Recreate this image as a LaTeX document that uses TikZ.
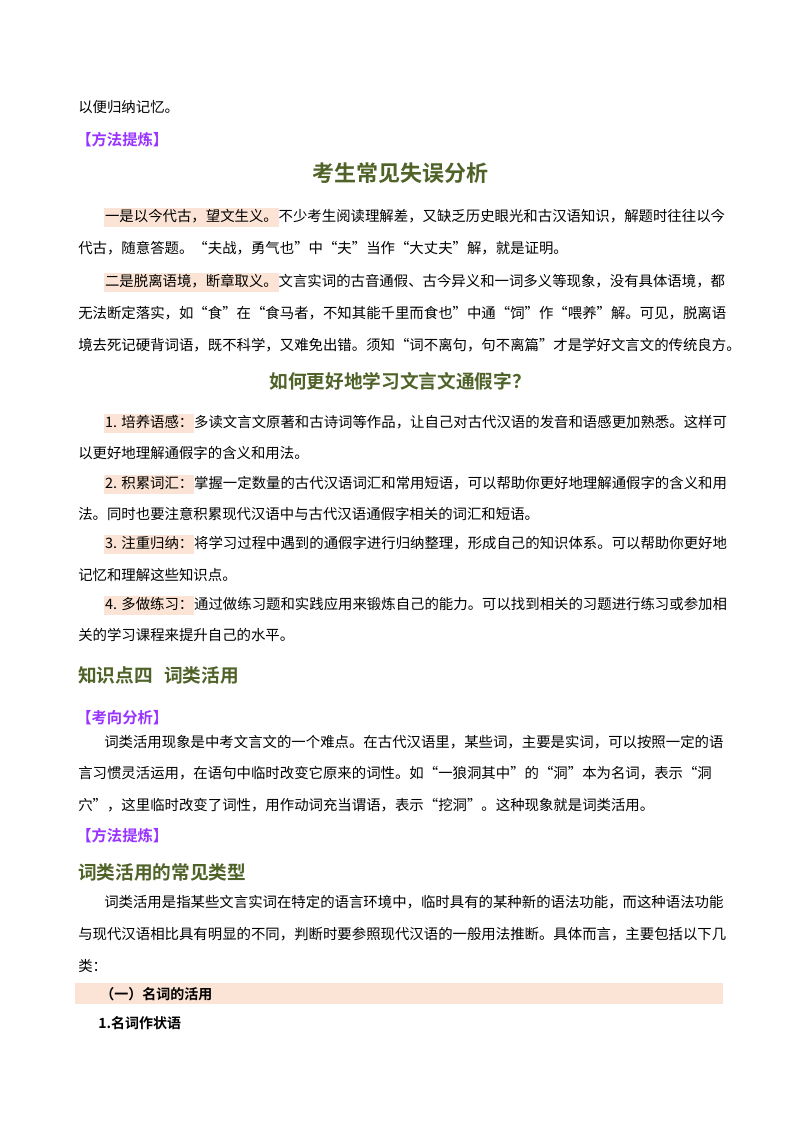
\documentclass[tikz,border=0pt]{standalone}
\usepackage{fontspec}
\setmainfont{Noto Sans CJK SC}
\newfontfamily\hei{Noto Sans CJK SC Bold}
\XeTeXlinebreaklocale "zh"
\XeTeXlinebreakskip=0pt plus 2pt
\definecolor{hlc}{HTML}{FBE4D5}
\definecolor{ttl}{HTML}{4F6228}
\definecolor{pur}{HTML}{9933FF}
\newcommand{\hlx}[1]{{\setlength{\fboxsep}{0.6pt}\colorbox{hlc}{\strut #1}}}
\newcommand{\fullln}[3]{\node[anchor=base west,inner sep=0] at (#1,#2) {\makebox[483pt][s]{#3}};}
\newcommand{\indln}[3]{\node[anchor=base west,inner sep=0] at (#1,#2) {\makebox[463.5pt][s]{#3}};}
\newcommand{\plainln}[3]{\node[anchor=base west,inner sep=0] at (#1,#2) {#3};}
\begin{document}
\begin{tikzpicture}[x=0.75pt,y=-0.75pt,every node/.style={font=\fontsize{10.8pt}{13pt}\selectfont}]
\useasboundingbox[fill=white] (0,0) rectangle (800,1132);
\plainln{78}{112}{以便归纳记忆。}
\node[anchor=base west,inner sep=0,text=pur,font=\hei\fontsize{11.5pt}{13pt}\selectfont] (m1) at (76,145) {【方法提炼】};
\node[anchor=base,inner sep=0,text=ttl,font=\hei\fontsize{16.5pt}{18pt}\selectfont] (t1) at (400,181) {考生常见失误分析};
\indln{104}{221}{\hlx{一是以今代古，望文生义。}不少考生阅读理解差，又缺乏历史眼光和古汉语知识，解题时往往以今}
\plainln{78}{253}{代古，随意答题。“夫战，勇气也”中“夫”当作“大丈夫”解，就是证明。}
\indln{104}{286}{\hlx{二是脱离语境，断章取义。}文言实词的古音通假、古今异义和一词多义等现象，没有具体语境，都}
\fullln{78}{318}{无法断定落实，如“食”在“食马者，不知其能千里而食也”中通“饲”作“喂养”解。可见，脱离语}
\fullln{78}{350}{境去死记硬背词语，既不科学，又难免出错。须知“词不离句，句不离篇”才是学好文言文的传统良方。}
\node[anchor=base,inner sep=0,text=ttl,font=\hei\fontsize{14pt}{16pt}\selectfont] (t2) at (400,388) {如何更好地学习文言文通假字？};
\indln{104}{427}{\hlx{1. 培养语感：}多读文言文原著和古诗词等作品，让自己对古代汉语的发音和语感更加熟悉。这样可}
\plainln{78}{458}{以更好地理解通假字的含义和用法。}
\indln{104}{488}{\hlx{2. 积累词汇：}掌握一定数量的古代汉语词汇和常用短语，可以帮助你更好地理解通假字的含义和用}
\plainln{78}{519}{法。同时也要注意积累现代汉语中与古代汉语通假字相关的词汇和短语。}
\indln{104}{548}{\hlx{3. 注重归纳：}将学习过程中遇到的通假字进行归纳整理，形成自己的知识体系。可以帮助你更好地}
\plainln{78}{580}{记忆和理解这些知识点。}
\indln{104}{609}{\hlx{4. 多做练习：}通过做练习题和实践应用来锻炼自己的能力。可以找到相关的习题进行练习或参加相}
\plainln{78}{640}{关的学习课程来提升自己的水平。}
\node[anchor=base west,inner sep=0,text=ttl,font=\hei\fontsize{14pt}{16pt}\selectfont] (k4) at (78,682) {知识点四\hspace{0.6em}词类活用};
\node[anchor=base west,inner sep=0,text=pur,font=\hei\fontsize{11.5pt}{13pt}\selectfont] (m2) at (76,723) {【考向分析】};
\indln{104}{747}{词类活用现象是中考文言文的一个难点。在古代汉语里，某些词，主要是实词，可以按照一定的语}
\fullln{78}{778}{言习惯灵活运用，在语句中临时改变它原来的词性。如“一狼洞其中”的“洞”本为名词，表示“洞}
\plainln{78}{810}{穴”，这里临时改变了词性，用作动词充当谓语，表示“挖洞”。这种现象就是词类活用。}
\node[anchor=base west,inner sep=0,text=pur,font=\hei\fontsize{11.5pt}{13pt}\selectfont] (m3) at (76,841) {【方法提炼】};
\node[anchor=base west,inner sep=0,text=ttl,font=\hei\fontsize{14pt}{16pt}\selectfont] (t3) at (78,879) {词类活用的常见类型};
\indln{104}{907}{词类活用是指某些文言实词在特定的语言环境中，临时具有的某种新的语法功能，而这种语法功能}
\fullln{78}{939}{与现代汉语相比具有明显的不同，判断时要参照现代汉语的一般用法推断。具体而言，主要包括以下几}
\plainln{78}{971}{类：}
\fill[hlc] (75,983) rectangle (723,1004);
\node[anchor=base west,inner sep=0,font=\hei\fontsize{10.5pt}{13pt}\selectfont] (s1) at (100,999) {（一）名词的活用};
\node[anchor=base west,inner sep=0,font=\hei\fontsize{10.5pt}{13pt}\selectfont] (s2) at (98,1028) {1.名词作状语};
\end{tikzpicture}
\end{document}
